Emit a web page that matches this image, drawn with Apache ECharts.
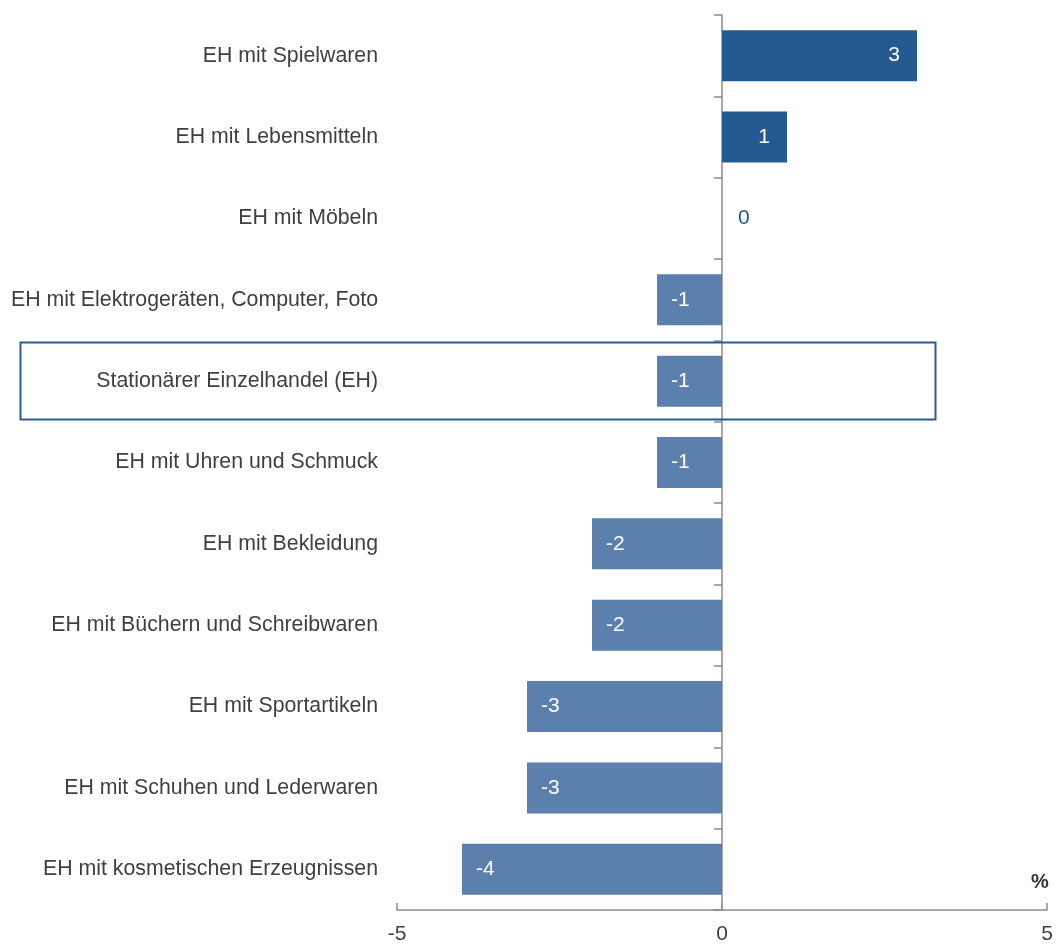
<!DOCTYPE html>
<html><head><meta charset="utf-8">
<script src="https://cdn.jsdelivr.net/npm/echarts@6/dist/echarts.min.js"></script>
<style>html,body{margin:0;padding:0;background:#fff}#c{width:1058px;height:945px}</style>
</head><body><div id="c"></div>
<script>
const categories = [
  "EH mit Spielwaren",
  "EH mit Lebensmitteln",
  "EH mit Möbeln",
  "EH mit Elektrogeräten, Computer, Foto",
  "Stationärer Einzelhandel (EH)",
  "EH mit Uhren und Schmuck",
  "EH mit Bekleidung",
  "EH mit Büchern und Schreibwaren",
  "EH mit Sportartikeln",
  "EH mit Schuhen und Lederwaren",
  "EH mit kosmetischen Erzeugnissen"
];
const values = [3, 1, 0, -1, -1, -1, -2, -2, -3, -3, -4];
const xTicks = [-5, 0, 5];

const DARK = '#245991', LIGHT = '#5b80ad', FONT = '"Liberation Sans", Arial, sans-serif';
const chart = echarts.init(document.getElementById('c'));
const data = values.map(v => ({
  value: v,
  itemStyle: { color: v > 0 ? DARK : LIGHT },
  label: v > 0 ? { position: 'insideRight', distance: 17, color: '#fff' }
       : v < 0 ? { position: 'insideLeft', distance: 14, color: '#fff' }
       : { position: 'right', distance: 16, color: DARK }
}));
chart.setOption({
  animation: false,
  grid: { left: 397, right: 11, top: 15, bottom: 35, containLabel: false, outerBoundsMode: 'none' },
  xAxis: {
    type: 'value', min: -5, max: 5, interval: 5,
    axisLine: { show: true, lineStyle: { color: '#8c8c8c', width: 1.5 } },
    axisTick: { show: true, inside: true, length: 7, lineStyle: { color: '#8c8c8c', width: 1.5 } },
    axisLabel: { fontSize: 21, color: '#404040', fontFamily: FONT, margin: 14,
      formatter: v => xTicks.includes(v) ? String(v) : '' },
    splitLine: { show: false }
  },
  yAxis: {
    type: 'category', data: categories, inverse: true,
    axisLine: { show: true, onZero: true, lineStyle: { color: '#8c8c8c', width: 1.5 } },
    axisTick: { show: true, length: 8, lineStyle: { color: '#8c8c8c', width: 1.5 } },
    axisLabel: { fontSize: 21.3, color: '#404040', fontFamily: FONT, margin: 19, padding: [3, 0, 0, 0] },
    splitLine: { show: false }
  },
  series: [{
    type: 'bar', data: data, barWidth: 51,
    label: { show: true, fontSize: 21, fontFamily: FONT, formatter: p => String(p.value) }
  }],
  graphic: [
    { type: 'rect', left: 18, top: 340, shape: { width: 915, height: 77 },
      style: { fill: 'none', stroke: '#2a5a92', lineWidth: 2 }, z: 10 },
    { type: 'text', left: 1031, top: 872,
      style: { text: '%', font: 'bold 20px ' + FONT, fill: '#333' } }
  ]
});
</script></body></html>
